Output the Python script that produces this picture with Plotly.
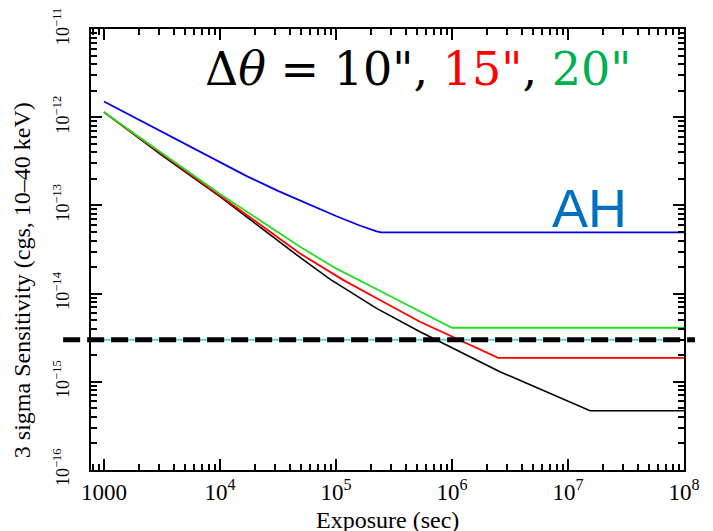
import math
import plotly.graph_objects as go

# ---- data ----
exp_10 = [1e3, 3.16e3, 1e4, 4.9e4, 8.87e4, 2.24e5, 5.3e5, 9.62e5, 2.59e6, 1.55e7, 1e8]
sens_10 = [1.14e-12, 3.7e-13, 1.26e-13, 2.57e-14, 1.46e-14, 6.8e-15, 3.7e-15, 2.5e-15, 1.3e-15, 4.7e-16, 4.7e-16]

exp_15 = [1e3, 3.16e3, 1e4, 4.9e4, 1.15e5, 2.24e5, 5.3e5, 2.5e6, 1e8]
sens_15 = [1.14e-12, 3.8e-13, 1.29e-13, 2.85e-14, 1.43e-14, 8.85e-15, 4.8e-15, 1.87e-15, 1.87e-15]

exp_20 = [1e3, 3.16e3, 1e4, 4.9e4, 1e5, 3.16e5, 1e6, 1e8]
sens_20 = [1.14e-12, 3.89e-13, 1.35e-13, 3.39e-14, 1.93e-14, 8.9e-15, 4.1e-15, 4.1e-15]

exp_ah = [1e3, 3.16e3, 1e4, 1.7e4, 3.16e4, 6.31e4, 1e5, 1.58e5, 2e5, 2.24e5, 2.45e5, 1e8]
sens_ah = [1.51e-12, 6.84e-13, 3.09e-13, 2.15e-13, 1.46e-13, 9.77e-14, 7.59e-14, 5.96e-14,
           5.31e-14, 5.07e-14, 4.95e-14, 4.95e-14]

threshold = 3e-15

x_tickvals = [1e3, 1e4, 1e5, 1e6, 1e7, 1e8]
x_ticktext = ["1000", "10<sup>4</sup>", "10<sup>5</sup>", "10<sup>6</sup>", "10<sup>7</sup>", "10<sup>8</sup>"]
y_tickvals = [1e-16, 1e-15, 1e-14, 1e-13, 1e-12, 1e-11]
y_ticktext = ["10<sup>\u221216</sup>", "10<sup>\u221215</sup>", "10<sup>\u221214</sup>",
              "10<sup>\u221213</sup>", "10<sup>\u221212</sup>", "10<sup>\u221211</sup>"]

x_range = [2.888, 8.0005]
y_range = [-16.0005, -10.9995]

SERIF = "Liberation Serif"

fig = go.Figure()

fig.add_trace(go.Scatter(x=[10 ** x_range[0], 10 ** x_range[1]], y=[threshold, threshold],
                         mode="lines", line=dict(color="#5fd6d0", width=2), hoverinfo="skip"))
fig.add_trace(go.Scatter(x=exp_10, y=sens_10, mode="lines", line=dict(color="black", width=1.6)))
fig.add_trace(go.Scatter(x=exp_15, y=sens_15, mode="lines", line=dict(color="#ff0000", width=1.8)))
fig.add_trace(go.Scatter(x=exp_20, y=sens_20, mode="lines", line=dict(color="#22dd22", width=1.8)))
fig.add_trace(go.Scatter(x=exp_ah, y=sens_ah, mode="lines", line=dict(color="#0000ee", width=1.8)))

y_thr_paper = (math.log10(threshold) - y_range[0]) / (y_range[1] - y_range[0])
fig.add_shape(type="line", xref="paper", yref="paper", x0=-0.047, x1=1.0185,
              y0=y_thr_paper, y1=y_thr_paper, layer="above",
              line=dict(color="black", width=5, dash="17px,7px"))

axis_common = dict(
    type="log", showgrid=False, zeroline=False, showline=True, linecolor="black", linewidth=2,
    mirror="allticks", ticks="inside", ticklen=11, tickwidth=2, tickcolor="black",
    tickmode="array", ticklabeloverflow="allow",
    minor=dict(ticks="inside", ticklen=6, tickwidth=1.5, tickcolor="black", dtick="D1", showgrid=False),
)

fig.update_xaxes(range=x_range, tickvals=x_tickvals, ticktext=x_ticktext,
                 tickfont=dict(family=SERIF, size=23, color="black"), **axis_common)
fig.update_yaxes(range=y_range, tickvals=y_tickvals, ticktext=y_ticktext, tickangle=-90,
                 ticklabelstandoff=13, tickfont=dict(family=SERIF, size=18, color="black"),
                 **axis_common)

fig.add_annotation(xref="paper", yref="paper", x=0.551, y=0.91, showarrow=False,
                   xanchor="center", yanchor="middle",
                   text="\u0394<i>\u03b8</i> = 10\", <span style='color:#ff0000'>15\"</span>, "
                        "<span style='color:#00b050'>20\"</span>",
                   font=dict(family="DejaVu Serif", size=46, color="black"))
fig.add_annotation(xref="paper", yref="paper", x=0.84, y=0.595, showarrow=False, text="AH",
                   xanchor="center", yanchor="middle",
                   font=dict(family="Liberation Sans", size=54, color="#0070c0"))
fig.add_annotation(xref="paper", yref="paper", x=-0.116, y=0.431, showarrow=False, textangle=-90,
                   xanchor="center", yanchor="middle",
                   text="3 sigma Sensitivity (cgs, 10\u201340 keV)",
                   font=dict(family=SERIF, size=24, color="black"))
fig.add_annotation(xref="paper", yref="paper", x=0.5, y=-0.113, showarrow=False,
                   xanchor="center", yanchor="middle",
                   text="Exposure (sec)", font=dict(family=SERIF, size=24, color="black"))

# page body has an 8px offset, so margins are shifted to keep the plot frame at 91..684 x 29..470
fig.update_layout(width=713, height=531, margin=dict(l=83, r=37, t=21, b=69, autoexpand=False),
                  paper_bgcolor="white", plot_bgcolor="white", showlegend=False)

fig.write_html("out.html")
